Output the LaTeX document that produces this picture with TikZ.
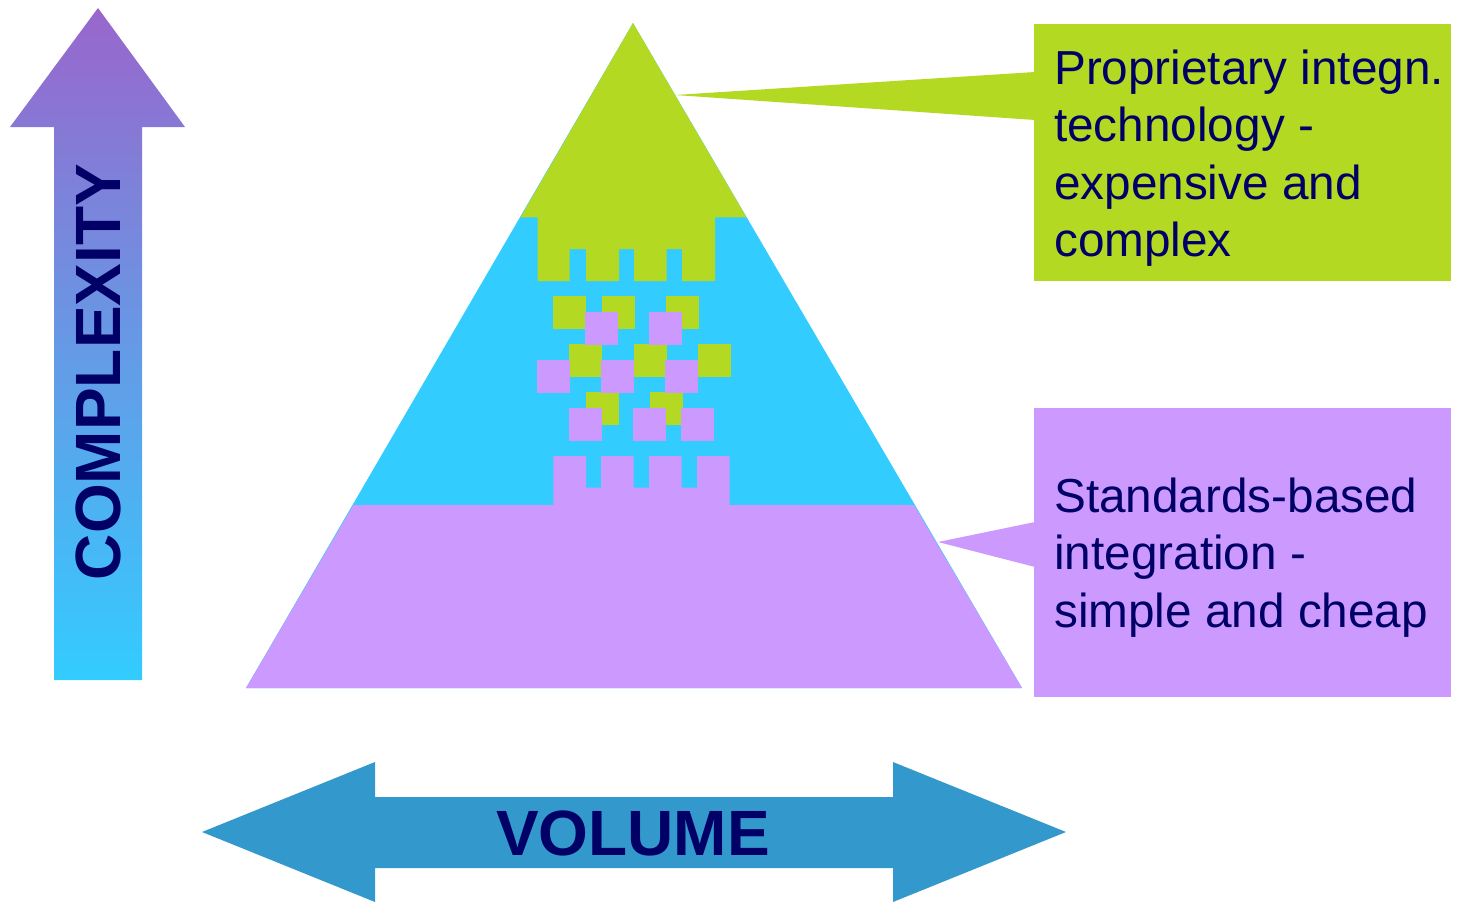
\documentclass[tikz,border=0pt]{standalone}
\usepackage{fontspec}
\setmainfont{Liberation Sans}
\definecolor{pgreen}{RGB}{179,217,35}
\definecolor{ppurple}{RGB}{204,153,255}
\definecolor{pblue}{RGB}{51,204,255}
\definecolor{pnavy}{RGB}{0,0,102}
\definecolor{pvol}{RGB}{51,153,204}
\definecolor{ptop}{RGB}{153,102,204}
\tikzset{
  callout/.style={font=\fontsize{47.7}{57}\selectfont, text=pnavy, anchor=base west, inner sep=0pt},
  bigword/.style={font=\fontsize{64}{70}\selectfont\bfseries, text=pnavy, inner sep=0pt},
  gsq/.style={fill=pgreen},
  psq/.style={fill=ppurple}
}
\begin{document}
\begin{tikzpicture}[x=1pt,y=-1pt]
\useasboundingbox (0,0) rectangle (1459,902);

% complexity arrow
\shade[top color=ptop, bottom color=pblue]
  (98,8) -- (185,127) -- (142,127) -- (142,680) -- (54,680) -- (54,127) -- (10,127) -- cycle;
\node[bigword, rotate=90] (complexity) at (98.5,372) {COMPLEXITY};

% volume arrow
\fill[pvol] (202,832) -- (375,762) -- (375,797) -- (893,797) -- (893,762) -- (1066,832)
  -- (893,902) -- (893,868) -- (375,868) -- (375,902) -- cycle;
\node[bigword] (volume) at (633,833.5) {VOLUME};

% pyramid base (blue)
\fill[pblue] (633,23) -- (1022,688) -- (246,688) -- cycle;
% green top
\fill[pgreen] (633,23) -- (746.5,217.3) -- (715,217.3) -- (715,281) -- (682,281) -- (682,249)
  -- (666.7,249) -- (666.7,281) -- (634,281) -- (634,249) -- (619,249) -- (619,281)
  -- (586,281) -- (586,249) -- (569.7,249) -- (569.7,281) -- (537.5,281) -- (537.5,217.3)
  -- (520.5,217.3) -- cycle;
% purple bottom
\fill[ppurple] (246,688) -- (353.5,505) -- (553.3,505) -- (553.3,456) -- (586,456) -- (586,487.7)
  -- (601,487.7) -- (601,456) -- (633.7,456) -- (633.7,487.7) -- (649,487.7) -- (649,456)
  -- (681.7,456) -- (681.7,487.7) -- (697,487.7) -- (697,456) -- (729.7,456) -- (729.7,505)
  -- (914,505) -- (1022,688) -- cycle;

% green squares
\fill[gsq] (553.3,296) rectangle (586,329);
\fill[gsq] (602,296) rectangle (635,329);
\fill[gsq] (666,296) rectangle (699,329);
\fill[gsq] (569.3,344) rectangle (601.7,376.7);
\fill[gsq] (634,344) rectangle (666.7,376.7);
\fill[gsq] (698,344) rectangle (730.7,376.7);
\fill[gsq] (586,392) rectangle (619,425);
\fill[gsq] (650,392) rectangle (682.7,425);
% purple squares
\fill[psq] (585,311.7) rectangle (617.7,345);
\fill[psq] (649,311.7) rectangle (681.7,345);
\fill[psq] (537,360) rectangle (569.7,392.7);
\fill[psq] (601,360) rectangle (633.7,392.7);
\fill[psq] (665,360) rectangle (697.7,392.7);
\fill[psq] (569,407.7) rectangle (601.7,440.7);
\fill[psq] (633,407.7) rectangle (665.7,440.7);
\fill[psq] (681,407.7) rectangle (713.7,440.7);

% green callout
\fill[pgreen] (1034,24) rectangle (1451,281);
\fill[pgreen] (1035,72) -- (675,95) -- (1035,120) -- cycle;
\node[callout] (g1) at (1054,84.5) {Proprietary integn.};
\node[callout] (g2) at (1054,141.8) {technology -};
\node[callout] (g3) at (1054,199.1) {expensive and};
\node[callout] (g4) at (1054,256.4) {complex};

% purple callout
\fill[ppurple] (1034,408) rectangle (1451,697);
\fill[ppurple] (1035,522) -- (938,542) -- (1035,567) -- cycle;
\node[callout] (p1) at (1054,512) {Standards-based};
\node[callout] (p2) at (1054,569.5) {integration -};
\node[callout] (p3) at (1054,627) {simple and cheap};
\end{tikzpicture}
\end{document}
